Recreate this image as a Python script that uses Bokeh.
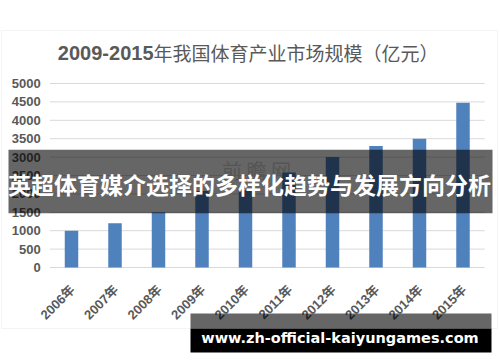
import math
from bokeh.plotting import figure
from bokeh.models import Range1d, Label, BoxAnnotation, ColumnDataSource
from bokeh.core.properties import value
from bokeh.embed import file_html
from bokeh.resources import INLINE

# ---- data ----
years = ["2006年", "2007年", "2008年", "2009年", "2010年", "2011年", "2012年", "2013年", "2014年", "2015年"]
values = [1000, 1200, 1500, 2080, 2100, 2580, 3000, 3300, 3500, 4480]
y_ticks = [0, 500, 1000, 1500, 2000, 2500, 3000, 3500, 4000, 4500, 5000]
title_num = "2009-2015"
title_cjk = "年我国体育产业市场规模（亿元）"
banner_text = "英超体育媒介选择的多样化趋势与发展方向分析"
watermark_text = "前   瞻   网"
site_text = "www.zh-official-kaiyungames.com"

LATIN = "Liberation Sans, Noto Sans CJK SC"
CJK = "Noto Sans CJK SC"

W, H = 500, 362
# plot-area geometry (pixels): category pitch and value scale
PITCH = 43.5            # px per category
FIRST = 71.0            # px centre of first category
ZERO_Y = 267.0          # px of value 0 from top
PX_PER_UNIT = 184.0 / 5000.0

n = len(years)
xs = list(range(n))
x0 = -FIRST / PITCH
x_range = Range1d(x0, x0 + W / PITCH)
y_top = ZERO_Y / PX_PER_UNIT
y_range = Range1d(y_top - H / PX_PER_UNIT, y_top)

p = figure(width=W, height=H, x_range=x_range, y_range=y_range,
           x_axis_type=None, y_axis_type=None,
           output_backend="svg", toolbar_location=None, min_border=0)
p.outline_line_color = None
p.background_fill_color = "white"
p.border_fill_color = "white"
p.grid.visible = False

# chart border
p.add_layout(BoxAnnotation(left=1, right=497, top=H - 30, bottom=H - 328,
                           left_units="screen", right_units="screen", top_units="screen", bottom_units="screen",
                           fill_alpha=0, line_color="#d9d9d9", line_width=1, level="underlay"))

# gridlines at the value ticks
grid_src = ColumnDataSource(dict(x0=[-0.5] * len(y_ticks), x1=[n - 0.5] * len(y_ticks), y=y_ticks))
p.segment(x0="x0", y0="y", x1="x1", y1="y", source=grid_src, line_color="#d9d9d9", line_width=1)

# watermark (under bars)
p.add_layout(Label(x=265, y=H - 170, x_units="screen", y_units="screen", text=watermark_text,
                   text_align="center", text_baseline="middle", text_font=CJK,
                   text_font_size="20px", text_color="#d4d4d4", level="underlay"))

# bars
src = ColumnDataSource(dict(x=xs, value=values, label=years))
p.vbar(x="x", top="value", width=0.31, source=src, fill_color="#4f81bd", line_color=None)

# value-axis tick labels
ytl = ColumnDataSource(dict(x=[-0.5] * len(y_ticks), y=y_ticks, t=[str(v) for v in y_ticks]))
p.text(x="x", y="y", text="t", source=ytl, x_offset=-9, text_align="right", text_baseline="middle",
       text_font=value(LATIN), text_font_style="bold", text_font_size="13px", text_color="#595959")

# category-axis tick labels (rotated 45 degrees)
xtl = ColumnDataSource(dict(x=xs, y=[0] * n, t=years))
p.text(x="x", y="y", text="t", source=xtl, angle=math.pi / 4, x_offset=1, y_offset=20,
       text_align="right", text_baseline="middle",
       text_font=value(LATIN), text_font_style="bold", text_font_size="13px", text_color="#595959")

# title
p.add_layout(Label(x=153, y=H - 52, x_units="screen", y_units="screen", text=title_num,
                   text_align="right", text_baseline="middle", text_font=LATIN,
                   text_font_style="bold", text_font_size="20px", text_color="#595959"))
p.add_layout(Label(x=153, y=H - 52, x_units="screen", y_units="screen", text=title_cjk,
                   text_align="left", text_baseline="middle", text_font=CJK,
                   text_font_size="19px", text_color="#595959"))

# dark banner
p.add_layout(BoxAnnotation(left=8, right=492, top=H - 149.3, bottom=H - 212.7,
                           left_units="screen", right_units="screen", top_units="screen", bottom_units="screen",
                           fill_color="black", fill_alpha=0.6, line_color=None))
p.add_layout(Label(x=249, y=H - 183, x_units="screen", y_units="screen", text=banner_text,
                   text_align="center", text_baseline="middle", text_font=CJK,
                   text_font_style="bold", text_font_size="23px", text_color="white"))

# bottom site banner
p.add_layout(BoxAnnotation(left=190, right=491, top=H - 313, bottom=H - 328,
                           left_units="screen", right_units="screen", top_units="screen", bottom_units="screen",
                           fill_color="black", fill_alpha=0.6, line_color=None))
p.add_layout(BoxAnnotation(left=190, right=491, top=H - 328, bottom=H - 352,
                           left_units="screen", right_units="screen", top_units="screen", bottom_units="screen",
                           fill_color="black", fill_alpha=1.0, line_color=None))
p.add_layout(Label(x=339.5, y=H - 337, x_units="screen", y_units="screen", text=site_text,
                   text_align="center", text_baseline="middle", text_font="DejaVu Sans",
                   text_font_style="bold", text_font_size="14.5px", text_color="white"))

open("out.html", "w").write(file_html(p, INLINE))
